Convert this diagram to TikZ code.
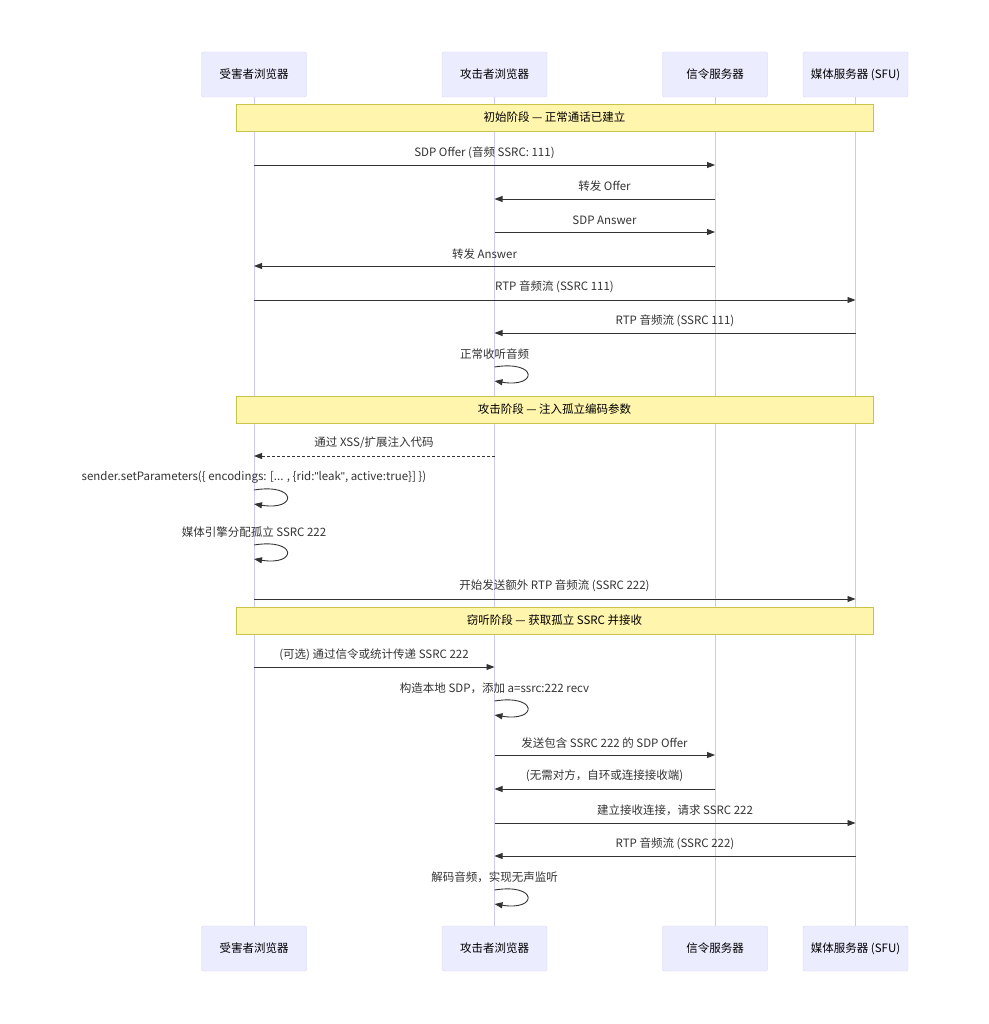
\documentclass[tikz,border=0pt]{standalone}
\usepackage{fontspec}
\setmainfont{Noto Sans CJK SC}
\newfontfamily\latinq{Liberation Sans}
\usetikzlibrary{arrows.meta}
\definecolor{actfill}{HTML}{ECECFF}
\definecolor{actdraw}{HTML}{D6D3F5}
\definecolor{lifec}{HTML}{CFC8F0}
\definecolor{notefill}{HTML}{FFF5AD}
\definecolor{notedraw}{HTML}{C9C24B}
\definecolor{ink}{HTML}{333333}
\begin{document}
\begin{tikzpicture}[x=1pt,y=-1pt,
  actor/.style={draw=actdraw,fill=actfill,rounded corners=2pt,minimum width=105pt,minimum height=45pt,inner sep=0pt,font=\fontsize{11.5}{13}\selectfont,text=black},
  life/.style={draw=lifec,line width=0.8pt},
  notebox/.style={draw=notedraw,fill=notefill,minimum width=637pt,minimum height=27pt,inner sep=0pt,font=\fontsize{11.5}{13}\selectfont},
  msg/.style={draw=ink,line width=0.9pt,-{Triangle[length=8pt,width=6pt]}},
  dmsg/.style={msg,dash pattern=on 3pt off 2pt},
  lbl/.style={font=\fontsize{11.5}{13}\selectfont,text=ink,inner sep=0pt,anchor=center},
]
\useasboundingbox (0,0) rectangle (988,1024);
% actors
\node[actor] (v)  at (254,74.5) {受害者浏览器};
\node[actor] (a)  at (494.5,74.5) {攻击者浏览器};
\node[actor] (s)  at (715,74.5) {信令服务器};
\node[actor] (m)  at (855.5,74.5) {媒体服务器 (SFU)};
\node[actor] (vb) at (254,948.5) {受害者浏览器};
\node[actor] (ab) at (494.5,948.5) {攻击者浏览器};
\node[actor] (sb) at (715,948.5) {信令服务器};
\node[actor] (mb) at (855.5,948.5) {媒体服务器 (SFU)};
\draw[life] (v) -- (vb);
\draw[life] (a) -- (ab);
\draw[life] (s) -- (sb);
\draw[life] (m) -- (mb);
% notes
\node[notebox] (n1) at (554.5,117.5) {初始阶段 — 正常通话已建立};
\node[notebox] (n2) at (554.5,409.5) {攻击阶段 — 注入孤立编码参数};
\node[notebox] (n3) at (554.5,620.5) {窃听阶段 — 获取孤立 SSRC 并接收};
% messages
\coordinate (v1) at (254,165); \coordinate (s1) at (715,165);
\draw[msg] (v1) -- (s1);
\node[lbl] (l1) at (484.5,153) {SDP Offer (音频 SSRC: 111)};
\coordinate (s2) at (715,199); \coordinate (a2) at (494.5,199);
\draw[msg] (s2) -- (a2);
\node[lbl] (l2) at (604.5,186) {转发 Offer};
\coordinate (a3) at (494.5,232); \coordinate (s3) at (715,232);
\draw[msg] (a3) -- (s3);
\node[lbl] (l3) at (604.5,220) {SDP Answer};
\coordinate (s4) at (715,266); \coordinate (v4) at (254,266);
\draw[msg] (s4) -- (v4);
\node[lbl] (l4) at (484.5,254) {转发 Answer};
\coordinate (v5) at (254,300); \coordinate (m5) at (855.5,300);
\draw[msg] (v5) -- (m5);
\node[lbl] (l5) at (554.5,287) {RTP 音频流 (SSRC 111)};
\coordinate (m6) at (855.5,333); \coordinate (a6) at (494.5,333);
\draw[msg] (m6) -- (a6);
\node[lbl] (l6) at (675,321) {RTP 音频流 (SSRC 111)};
\coordinate (a7s) at (494.5,367); \coordinate (a7e) at (494.5,381);
\draw[msg] (a7s) .. controls (538,360) and (538,388) .. (a7e);
\node[lbl] (l7) at (494.5,354) {正常收听音频};
% attack
\coordinate (a8) at (494.5,456); \coordinate (v8) at (254,456);
\draw[dmsg] (a8) -- (v8);
\node[lbl] (l8) at (374,443) {通过 XSS/扩展注入代码};
\coordinate (v9s) at (254,490); \coordinate (v9e) at (254,504);
\draw[msg] (v9s) .. controls (297.5,483) and (297.5,511) .. (v9e);
\node[lbl] (l9) at (254,477) {sender.setParameters(\{ encodings: [... , \{rid:{\latinq "}leak{\latinq "}, active:true\}] \})};
\coordinate (v10s) at (254,545); \coordinate (v10e) at (254,559);
\draw[msg] (v10s) .. controls (297.5,538) and (297.5,566) .. (v10e);
\node[lbl] (l10) at (254,532) {媒体引擎分配孤立 SSRC 222};
\coordinate (v11) at (254,599); \coordinate (m11) at (855.5,599);
\draw[msg] (v11) -- (m11);
\node[lbl] (l11) at (554.5,586) {开始发送额外 RTP 音频流 (SSRC 222)};
% eavesdrop
\coordinate (v12) at (254,667); \coordinate (a12) at (494.5,667);
\draw[msg] (v12) -- (a12);
\node[lbl] (l12) at (374,655) {(可选) 通过信令或统计传递 SSRC 222};
\coordinate (a13s) at (494.5,701); \coordinate (a13e) at (494.5,715);
\draw[msg] (a13s) .. controls (538,694) and (538,722) .. (a13e);
\node[lbl] (l13) at (494.5,688) {构造本地 SDP，添加 a=ssrc:222 recv};
\coordinate (a14) at (494.5,755); \coordinate (s14) at (715,755);
\draw[msg] (a14) -- (s14);
\node[lbl] (l14) at (604.5,743) {发送包含 SSRC 222 的 SDP Offer};
\coordinate (s15) at (715,789); \coordinate (a15) at (494.5,789);
\draw[msg] (s15) -- (a15);
\node[lbl] (l15) at (604.5,776) {(无需对方，自环或连接接收端)};
\coordinate (a16) at (494.5,823); \coordinate (m16) at (855.5,823);
\draw[msg] (a16) -- (m16);
\node[lbl] (l16) at (675,810) {建立接收连接，请求 SSRC 222};
\coordinate (m17) at (855.5,856); \coordinate (a17) at (494.5,856);
\draw[msg] (m17) -- (a17);
\node[lbl] (l17) at (675,844) {RTP 音频流 (SSRC 222)};
\coordinate (a18s) at (494.5,890); \coordinate (a18e) at (494.5,904);
\draw[msg] (a18s) .. controls (538,883) and (538,911) .. (a18e);
\node[lbl] (l18) at (494.5,877) {解码音频，实现无声监听};
\end{tikzpicture}
\end{document}
